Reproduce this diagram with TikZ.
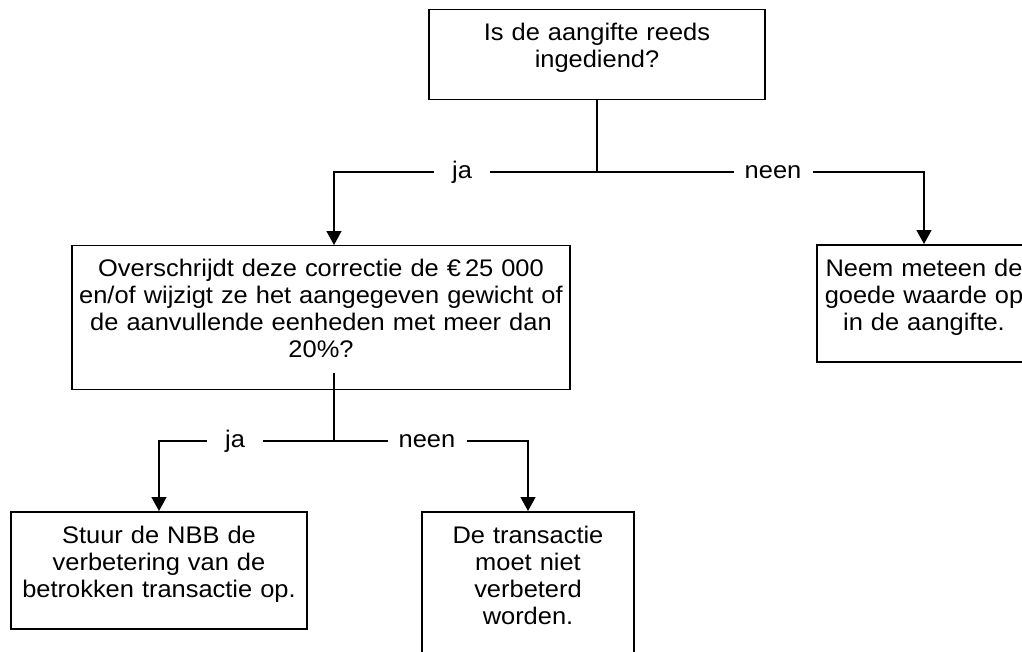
\documentclass[tikz,border=0pt]{standalone}
\usepackage{fontspec}
\setmainfont{Liberation Sans}[FakeStretch=1.06]
\usepackage{tikz}
\usetikzlibrary{
	arrows.meta
}
\tikzset{
	every node/.append style={
		font=\fontsize{24}{27}\selectfont
	},
	question/.style={
		draw,
		line width=1.3pt,
		anchor=north,
		align=center,
		inner xsep=0pt,
		inner ysep=12pt,
		execute at begin node=\strut,
		execute at end node={\rule[-20pt]{0pt}{20pt}}
	},
	answer/.style={
		question,
		line width=2.4pt
	},
	choice/.style={
		inner xsep=11pt,
		inner ysep=0pt,
		minimum width=56pt,
		text height=14pt,
		text depth=2pt
	},
	wire/.style={
		line width=1.5pt
	},
	flow/.style={
		wire,
		-{Triangle[width=15pt,length=14pt]}
	}
}

\begin{document}
\begin{tikzpicture}[x=1pt,y=-1pt]
	\useasboundingbox (0,0) rectangle (1022,651);

	\node[question,text width=336pt] (ingediend) at (597,9)   {Is de aangifte reeds\\ingediend?};
	\node[question,text width=498pt] (drempel)   at (321,245) {Overschrijdt deze correctie de €\,25 000\\en/of wijzigt ze het aangegeven gewicht of\\de aanvullende eenheden met meer dan\\20\%?};
	\node[answer,text width=214pt]   (meteen)    at (924,244) {Neem meteen de\\goede waarde op\\in de aangifte.};
	\node[answer,text width=296pt]   (sturen)    at (159,511) {Stuur de NBB de\\verbetering van de\\betrokken transactie op.};
	\node[answer,text width=212pt]   (laten)     at (528,511) {De transactie\\moet niet\\verbeterd\\worden.};

	\node[choice] (ja1)   at (462,172) {ja};
	\node[choice] (neen1) at (773,172) {neen};
	\node[choice] (ja2)   at (235,441) {ja};
	\node[choice] (neen2) at (427,441) {neen};

	\coordinate (stam) at ([xshift=13pt]drempel.south);

	\draw[wire] (ingediend.south) -- (ingediend.south |- ja1);
	\draw[wire] (ja1.east) -- (neen1.west);
	\draw[flow] (ja1.west) -| ([xshift=13pt]drempel.north);
	\draw[flow] (neen1.east) -| (meteen.north);

	\draw[wire] ([yshift=17pt]stam) -- (stam |- ja2);
	\draw[wire] (ja2.east) -- (neen2.west);
	\draw[flow] (ja2.west) -| (sturen.north);
	\draw[flow] (neen2.east) -| (laten.north);
\end{tikzpicture}
\end{document}
